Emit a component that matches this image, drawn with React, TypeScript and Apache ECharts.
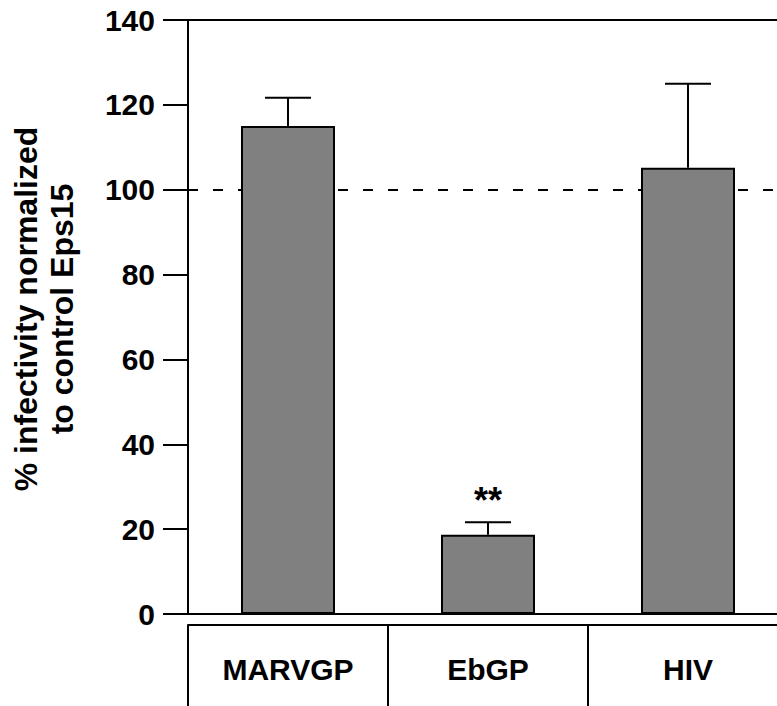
import React, { useEffect, useRef } from "react";
import * as echarts from "echarts";

const categories = ["MARVGP", "EbGP", "HIV"];
const means = [115, 18.7, 105.2];
const upperErrors = [121.7, 21.6, 125];
const significance = ["", "**", ""];
const referenceValue = 100;
const yTicks = { min: 0, max: 140, interval: 20 };

const FONT = "'Liberation Sans', Arial, Helvetica, sans-serif";

export default function App() {
  const ref = useRef<HTMLDivElement>(null);
  useEffect(() => {
    if (!ref.current) return;
    const chart = echarts.init(ref.current, null, { renderer: "svg" });
    const errData = categories.map((_, i) => [i, means[i], upperErrors[i], significance[i]]);
    chart.setOption({
      animation: false,
      backgroundColor: "#ffffff",
      grid: { left: 188, top: 20, width: 600, height: 594, containLabel: false },
      xAxis: [
        {
          type: "category",
          data: categories,
          position: "bottom",
          axisLine: { show: true, lineStyle: { color: "#000", width: 2 } },
          axisTick: { show: false },
          axisLabel: { show: false },
          splitLine: { show: false },
        },
        {
          type: "category",
          data: categories,
          position: "bottom",
          offset: 11,
          axisLine: { show: true, lineStyle: { color: "#000", width: 2 } },
          axisTick: { show: true, inside: false, length: 90, lineStyle: { color: "#000", width: 2 } },
          axisLabel: {
            show: true,
            margin: 29,
            color: "#000",
            fontFamily: FONT,
            fontWeight: "bold",
            fontSize: 30,
          },
        },
        {
          type: "category",
          data: categories,
          position: "top",
          axisLine: { show: true, lineStyle: { color: "#000", width: 2 } },
          axisTick: { show: false },
          axisLabel: { show: false },
        },
      ],
      yAxis: {
        type: "value",
        min: yTicks.min,
        max: yTicks.max,
        interval: yTicks.interval,
        name: "% infectivity normalized\nto control Eps15",
        nameLocation: "middle",
        nameRotate: 90,
        nameGap: 108,
        nameTextStyle: {
          color: "#000",
          fontFamily: FONT,
          fontWeight: "bold",
          fontSize: 32,
          lineHeight: 36,
          align: "center",
          padding: [0, 0, 0, 16],
        },
        axisLine: { show: true, lineStyle: { color: "#000", width: 2 } },
        axisTick: { show: true, inside: false, length: 25, lineStyle: { color: "#000", width: 2 } },
        axisLabel: {
          margin: 33,
          color: "#000",
          fontFamily: FONT,
          fontWeight: "bold",
          fontSize: 30,
        },
        splitLine: { show: false },
      },
      series: [
        {
          type: "bar",
          xAxisIndex: 0,
          data: means,
          barWidth: 94,
          z: 3,
          itemStyle: { color: "#808080", borderColor: "#000", borderWidth: 2 },
          markLine: {
            z: 1,
            silent: true,
            symbol: "none",
            label: { show: false },
            lineStyle: { color: "#000", width: 2, type: [10, 15] },
            data: [{ yAxis: referenceValue }],
          },
        },
        {
          type: "custom",
          xAxisIndex: 0,
          z: 2,
          data: errData,
          renderItem: (params: any, api: any) => {
            const i = api.value(0);
            const top = api.coord([i, api.value(2)]);
            const base = api.coord([i, api.value(1)]);
            const half = 23;
            const sig = significance[params.dataIndex];
            const children: any[] = [
              {
                type: "line",
                shape: { x1: base[0], y1: base[1], x2: top[0], y2: top[1] },
                style: { stroke: "#000", lineWidth: 2 },
              },
              {
                type: "line",
                shape: { x1: top[0] - half, y1: top[1], x2: top[0] + half, y2: top[1] },
                style: { stroke: "#000", lineWidth: 2 },
              },
            ];
            if (sig) {
              children.push({
                type: "text",
                x: top[0],
                y: top[1] - 4,
                style: {
                  text: sig,
                  fill: "#000",
                  font: `bold 36px ${FONT}`,
                  align: "center",
                  verticalAlign: "bottom",
                },
              });
            }
            return { type: "group", children };
          },
        },
      ],
    });
    return () => chart.dispose();
  }, []);
  return (
    <div style={{ position: "fixed", left: 0, top: 0, width: 777, height: 706, overflow: "hidden", background: "#fff" }}>
      <div ref={ref} style={{ position: "absolute", left: 0, top: 0, width: 800, height: 706 }} />
    </div>
  );
}
